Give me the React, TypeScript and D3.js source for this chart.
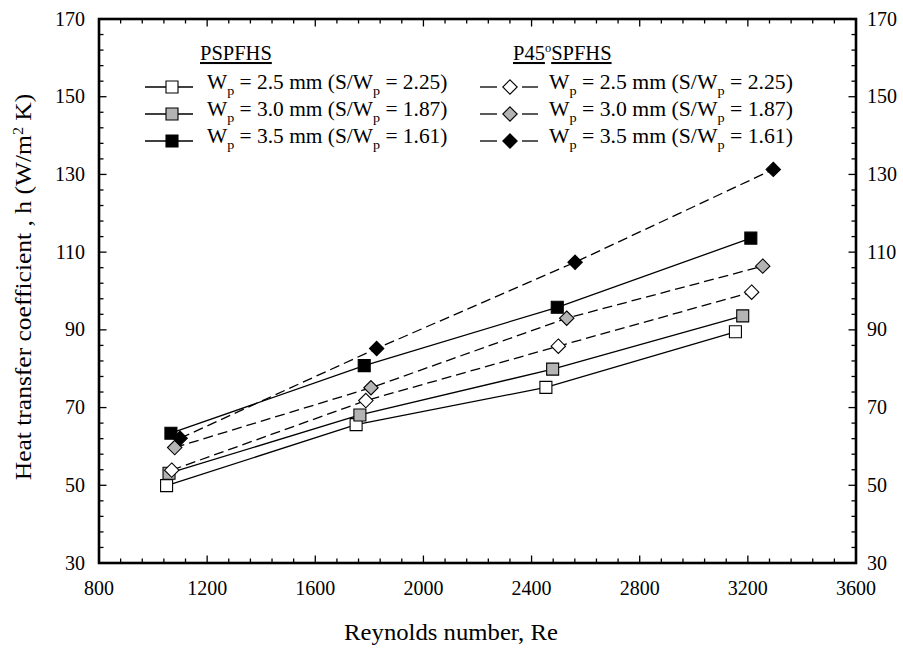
import React from "react";
import * as d3 from "d3";

// ---- data ----
const reSq25 = [1050, 1751, 2453, 3154];
const hSq25 = [49.9, 65.6, 75.2, 89.5];
const reSq30 = [1059, 1765, 2478, 3181];
const hSq30 = [53.1, 68.1, 79.9, 93.6];
const reSq35 = [1066, 1781, 2495, 3211];
const hSq35 = [63.4, 80.8, 95.8, 113.6];
const reDi25 = [1069, 1787, 2499, 3214];
const hDi25 = [53.9, 71.8, 85.8, 99.7];
const reDi30 = [1080, 1806, 2530, 3255];
const hDi30 = [59.7, 75.1, 93.0, 106.4];
const reDi35 = [1100, 1827, 2561, 3294];
const hDi35 = [62.1, 85.2, 107.4, 131.3];

const legendWp = ["2.5", "3.0", "3.5"];
const legendRatio = ["2.25", "1.87", "1.61"];

const xTickValues = [800, 1200, 1600, 2000, 2400, 2800, 3200, 3600];
const yTickValues = [30, 50, 70, 90, 110, 130, 150, 170];

const FONT = "Liberation Serif";
const fills = ["#ffffff", "#b4b4b4", "#000000"];

type Series = { re: number[]; h: number[]; shape: "square" | "diamond"; fill: string; dashed: boolean };

const seriesList: Series[] = [
  { re: reSq25, h: hSq25, shape: "square", fill: fills[0], dashed: false },
  { re: reSq30, h: hSq30, shape: "square", fill: fills[1], dashed: false },
  { re: reSq35, h: hSq35, shape: "square", fill: fills[2], dashed: false },
  { re: reDi25, h: hDi25, shape: "diamond", fill: fills[0], dashed: true },
  { re: reDi30, h: hDi30, shape: "diamond", fill: fills[1], dashed: true },
  { re: reDi35, h: hDi35, shape: "diamond", fill: fills[2], dashed: true },
];

function markerPath(shape: "square" | "diamond") {
  if (shape === "square") return d3.symbol(d3.symbolSquare, 144)() as string;
  const r = 7.2;
  return `M0,${-r}L${r},0L0,${r}L${-r},0Z`;
}

export default function App() {
  const x = d3.scaleLinear().domain([800, 3600]).range([99, 856]);
  const y = d3.scaleLinear().domain([30, 170]).range([563, 19]);
  const xMinor = d3.range(800, 3600.1, 80);
  const yMinor = d3.range(30, 170.1, 4);

  const pathFor = (s: Series) =>
    d3
      .line<[number, number]>()
      .x((d) => x(d[0]))
      .y((d) => y(d[1]))(s.re.map((r, i) => [r, s.h[i]] as [number, number])) as string;

  const [x0, x1] = x.range();
  const [y0, y1] = y.range();

  const legendRows = [87, 114, 141];

  const legendText = (tx: number, ty: number, i: number, sx: number) => (
    <text transform={`translate(${tx},${ty}) scale(${sx},1)`} style={{ fontFamily: FONT, fontSize: 20.5 }} fill="#000">
      W
      <tspan style={{ fontSize: 13.5 }} dy={6}>p</tspan>
      <tspan dy={-6}>{` = ${legendWp[i]} mm (S/W`}</tspan>
      <tspan style={{ fontSize: 13.5 }} dy={6}>p</tspan>
      <tspan dy={-6}>{` = ${legendRatio[i]})`}</tspan>
    </text>
  );

  return (
    <svg
      width={903}
      height={649}
      style={{ position: "absolute", left: 0, top: 0, background: "#fff", fontFamily: FONT }}
      xmlns="http://www.w3.org/2000/svg"
    >
      <rect x={0} y={0} width={903} height={649} fill="#fff" />

      {/* ticks */}
      <g stroke="#000" strokeWidth={1.3}>
        {xMinor.map((v) => {
          const major = xTickValues.includes(Math.round(v));
          const len = major ? 7.5 : 4.5;
          return (
            <g key={"xm" + v}>
              <line x1={x(v)} x2={x(v)} y1={y0} y2={y0 - len} />
              <line x1={x(v)} x2={x(v)} y1={y1} y2={y1 + len} />
            </g>
          );
        })}
        {yMinor.map((v) => {
          const major = yTickValues.includes(Math.round(v));
          const len = major ? 7.5 : 4.5;
          return (
            <g key={"ym" + v}>
              <line x1={x0} x2={x0 + len} y1={y(v)} y2={y(v)} />
              <line x1={x1} x2={x1 - len} y1={y(v)} y2={y(v)} />
            </g>
          );
        })}
      </g>

      {/* frame */}
      <rect x={x0} y={y1} width={x1 - x0} height={y0 - y1} fill="none" stroke="#000" strokeWidth={2.6} />

      {/* tick labels */}
      <g style={{ fontFamily: FONT, fontSize: 20 }} fill="#000">
        {xTickValues.map((v) => (
          <text key={"xl" + v} x={x(v)} y={595} textAnchor="middle">
            {v}
          </text>
        ))}
        {yTickValues.map((v) => (
          <text key={"yl" + v} x={85} y={y(v) + 6.5} textAnchor="end">
            {v}
          </text>
        ))}
        {yTickValues.map((v) => (
          <text key={"yr" + v} x={867} y={y(v) + 6.5} textAnchor="start">
            {v}
          </text>
        ))}
      </g>

      {/* axis titles */}
      <text
        transform={`translate(451,640) scale(1.075,1)`}
        textAnchor="middle"
        style={{ fontFamily: FONT, fontSize: 23 }}
        fill="#000"
      >
        Reynolds number, Re
      </text>
      <text
        transform={`translate(31,${287}) rotate(-90) scale(1.11,1)`}
        textAnchor="middle"
        style={{ fontFamily: FONT, fontSize: 23 }}
        fill="#000"
      >
        Heat transfer coefficient , h (W/m
        <tspan style={{ fontSize: 14.5 }} dy={-8}>2</tspan>
        <tspan dy={8}> K)</tspan>
      </text>

      {/* series lines */}
      <g fill="none" stroke="#000" strokeWidth={1.3}>
        {seriesList.map((s, i) => (
          <path key={"l" + i} d={pathFor(s)} strokeDasharray={s.dashed ? "10,5" : undefined} />
        ))}
      </g>

      {/* markers */}
      {seriesList.map((s, i) => (
        <g key={"m" + i}>
          {s.re.map((r, j) => (
            <path
              key={j}
              d={markerPath(s.shape)}
              transform={`translate(${x(r)},${y(s.h[j])})`}
              fill={s.fill}
              stroke="#000"
              strokeWidth={1.1}
            />
          ))}
        </g>
      ))}

      {/* legend: PSPFHS */}
      <text x={200} y={60} style={{ fontFamily: FONT, fontSize: 20.5, textDecoration: "underline" }} fill="#000">
        PSPFHS
      </text>
      {legendRows.map((ly, i) => (
        <g key={"lg1" + i}>
          <line x1={145} x2={193} y1={ly} y2={ly} stroke="#000" strokeWidth={1.3} />
          <path d={markerPath("square")} transform={`translate(172,${ly})`} fill={fills[i]} stroke="#000" strokeWidth={1.1} />
          {legendText(207, ly + 2, i, 1.045)}
        </g>
      ))}

      {/* legend: P45°SPFHS */}
      <text x={513} y={60} style={{ fontFamily: FONT, fontSize: 20.5 }} fill="#000">
        <tspan style={{ textDecoration: "underline" }}>P45</tspan>
        <tspan style={{ fontSize: 12.5 }} dy={-8}>o</tspan>
        <tspan dy={8} style={{ textDecoration: "underline" }}>SPFHS</tspan>
      </text>
      {legendRows.map((ly, i) => (
        <g key={"lg2" + i}>
          <line x1={480} x2={497} y1={ly} y2={ly} stroke="#000" strokeWidth={1.3} />
          <line x1={522} x2={538} y1={ly} y2={ly} stroke="#000" strokeWidth={1.3} />
          <path d={markerPath("diamond")} transform={`translate(510,${ly})`} fill={fills[i]} stroke="#000" strokeWidth={1.1} />
          {legendText(549, ly + 2, i, 1.06)}
        </g>
      ))}
    </svg>
  );
}
